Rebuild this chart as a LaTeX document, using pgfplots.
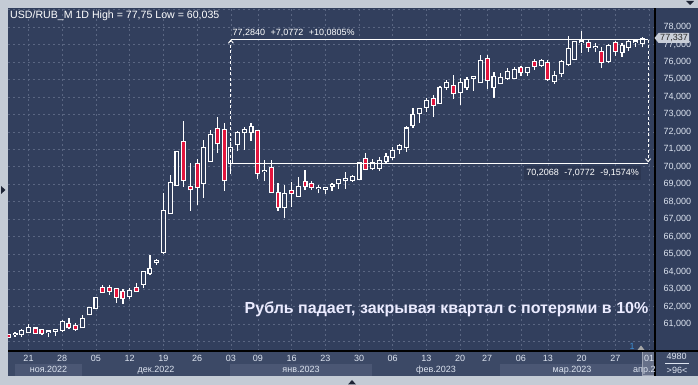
\documentclass[border=0pt]{standalone}
\usepackage{pgfplots}
\pgfplotsset{compat=1.18}
\usepackage{pgfplotstable}
\usepackage{fontspec}
\setmainfont{Liberation Sans}
\usetikzlibrary{arrows.meta}
\definecolor{framec}{HTML}{C4CBD5}
\definecolor{bgc}{HTML}{323F5D}
\definecolor{bandc}{HTML}{3C4966}
\definecolor{mboxc}{HTML}{4B5774}
\definecolor{gridc}{HTML}{5A6682}
\definecolor{txtc}{HTML}{DDE4F0}
\definecolor{cred}{HTML}{E3153D}
\definecolor{pricec}{HTML}{C9CED8}
\definecolor{darkc}{HTML}{1E2536}

\pgfplotstableread{
i o h l c
-2 60.44 60.54 60.27 60.45
-1 60.43 60.70 60.27 60.60
0 60.56 61.00 60.56 60.75
3 60.55 60.63 60.27 60.57
4 60.63 60.65 60.33 60.65
5 60.66 61.23 60.52 61.13
8 60.81 61.51 60.79 61.27
9 61.55 61.92 61.50 61.90
10 61.93 62.53 61.84 62.47
15 62.62 63.04 62.45 62.89
17 63.31 64.05 63.04 63.98
18 63.94 64.97 63.80 64.14
19 64.56 64.74 64.40 64.58
20 65.14 68.52 65.03 67.47
21 67.34 69.53 67.30 69.05
22 68.96 70.90 68.90 70.83
26 69.05 71.53 68.21 71.06
27 70.35 72.10 70.30 71.82
30 70.23 71.44 69.59 71.06
31 71.29 72.05 70.90 71.95
32 71.97 72.29 70.96 72.10
33 71.97 72.49 71.49 72.26
35 69.75 70.39 69.18 69.77
38 67.68 68.96 67.05 68.42
40 68.33 69.43 68.29 68.83
43 68.77 68.96 68.48 68.79
44 68.74 68.85 68.43 68.76
45 68.90 69.05 68.63 68.94
46 69.09 69.30 68.75 69.24
47 69.22 69.68 68.73 69.30
48 69.24 69.53 69.15 69.40
49 69.30 70.25 69.28 70.20
51 69.91 70.43 69.81 70.20
52 69.95 70.54 69.77 70.33
53 70.33 70.77 70.14 70.54
54 70.58 71.15 70.39 70.90
55 71.04 71.29 70.72 71.21
56 71.15 72.33 70.85 72.19
57 72.39 73.35 72.24 72.96
58 73.06 73.38 72.52 73.31
59 73.44 73.92 73.15 73.76
61 73.63 74.62 73.59 74.49
62 74.55 74.97 74.39 74.78
64 74.26 75.06 73.54 74.78
65 74.55 75.12 74.39 74.97
66 75.09 75.16 74.34 75.11
67 74.83 76.40 74.81 76.05
69 74.59 75.44 73.95 75.16
70 74.81 75.38 74.72 75.06
71 75.10 75.67 74.97 75.41
72 75.10 75.69 75.06 75.54
74 75.44 75.69 75.21 75.64
76 75.83 76.15 75.73 76.05
78 74.93 75.48 74.74 75.20
79 75.35 76.11 75.16 75.98
80 75.86 77.48 75.78 76.72
81 76.17 77.14 76.11 77.12
82 77.15 77.75 76.53 77.17
84 76.83 77.10 76.59 76.85
86 76.05 77.01 75.92 76.91
88 76.59 77.07 76.30 76.91
89 76.87 77.26 76.64 77.12
90 77.15 77.30 76.87 77.17
91 77.07 77.41 76.84 77.33
}\candleup

\pgfplotstableread{
i o h l c
-3 60.39 60.42 60.24 60.28
1 60.74 60.85 60.47 60.50
2 60.66 60.74 60.36 60.47
6 60.98 61.33 60.70 60.81
7 60.89 61.04 60.60 60.73
11 63.06 63.23 62.76 62.85
12 63.06 63.23 62.66 62.90
13 62.98 63.05 62.22 62.56
14 62.83 62.98 62.14 62.50
16 63.06 63.37 62.82 62.91
23 71.40 72.62 68.83 69.24
24 68.86 70.20 67.49 68.71
25 70.14 70.44 67.81 68.83
28 72.14 72.87 70.80 71.34
29 72.10 72.52 68.63 69.22
34 72.05 72.10 69.30 69.63
36 69.91 70.39 68.50 68.58
37 68.52 69.05 67.47 67.72
39 68.61 69.11 67.72 68.48
41 69.13 69.81 68.67 68.88
42 69.01 69.18 68.67 68.83
50 70.43 70.77 69.81 69.89
60 73.86 74.09 72.87 73.55
63 74.64 75.25 73.88 74.20
68 76.15 76.40 74.45 74.95
73 75.64 75.77 75.21 75.44
75 76.02 76.15 75.54 75.79
77 75.92 76.11 74.91 75.00
83 77.07 77.30 76.59 76.84
85 76.59 76.84 75.67 76.02
87 77.07 77.22 76.36 76.65
}\candledn

\begin{document}
\begin{tikzpicture}[x=1pt,y=1pt]
\useasboundingbox (0,0) rectangle (698,385);
\fill[framec] (0,0) rectangle (698,385);
\fill[bgc] (8,9) rectangle (698,377);
\fill[bandc] (8,9) rectangle (698,34);
\fill[mboxc] (15,9) rectangle (82,21);
\fill[mboxc] (230,9) rectangle (372,21);
\fill[mboxc] (500,9) rectangle (642,21);
\filldraw[fill=mboxc!85!white, draw=gridc!60!white, line width=0.6pt] (642.5,9.5) rectangle (654.5,33.5);

\begin{axis}[
  at={(8pt,34pt)}, anchor=south west, scale only axis,
  width=647pt, height=343pt,
  xmin=-3.04, xmax=92.88, ymin=59.454, ymax=79.088,
  axis line style={draw=none},
  major tick length=0pt,
  xtick={0,5,10,15,20,25,30,34,39,44,49,54,59,64,68,73,77,82,87,92},
  xticklabels={21,28,05,12,19,26,03,09,16,23,30,06,13,20,27,06,13,20,27,01},
  ytick={60,...,79},
  yticklabel pos=right,
  yticklabel={\ifdim\tick pt<60.5pt\else\ifdim\tick pt>78.5pt\else\pgfmathprintnumber[fixed,fixed zerofill,precision=3,use comma,assume math mode=true]{\tick}\fi\fi},
  ticklabel style={font=\fontsize{9}{10}\selectfont, text=txtc},
  yticklabel style={anchor=west, xshift=5pt},
  xticklabel style={anchor=base, yshift=-11pt},
  grid=major,
  major grid style={draw=gridc, line width=0.6pt, dash pattern=on 2pt off 3pt},
]
% wicks
\addplot[draw=none, mark=none, forget plot, error bars/.cd, y dir=plus, y explicit, error mark=none, error bar style={draw=white, line width=1.2pt}] table[x=i, y=l, y error plus expr={\thisrow{h}-\thisrow{l}}] \candleup;
\addplot[draw=none, mark=none, forget plot, error bars/.cd, y dir=plus, y explicit, error mark=none, error bar style={draw=white, line width=1.2pt}] table[x=i, y=l, y error plus expr={\thisrow{h}-\thisrow{l}}] \candledn;
% bodies outer
\addplot[draw=none, mark=none, forget plot, error bars/.cd, y dir=plus, y explicit, error mark=none, error bar style={draw=white, line width=5pt}] table[x=i, y expr={min(\thisrow{o},\thisrow{c})-0.06}, y error plus expr={abs(\thisrow{c}-\thisrow{o})+0.12}] \candleup;
\addplot[draw=none, mark=none, forget plot, error bars/.cd, y dir=plus, y explicit, error mark=none, error bar style={draw=white, line width=5pt}] table[x=i, y expr={min(\thisrow{o},\thisrow{c})-0.06}, y error plus expr={abs(\thisrow{c}-\thisrow{o})+0.12}] \candledn;
% bodies inner
\addplot[draw=none, mark=none, forget plot, error bars/.cd, y dir=plus, y explicit, error mark=none, error bar style={draw=bgc, line width=2.8pt}] table[x=i, y expr={min(\thisrow{o},\thisrow{c})}, y error plus expr={abs(\thisrow{c}-\thisrow{o})}] \candleup;
\addplot[draw=none, mark=none, forget plot, error bars/.cd, y dir=plus, y explicit, error mark=none, error bar style={draw=cred, line width=2.8pt}] table[x=i, y expr={min(\thisrow{o},\thisrow{c})}, y error plus expr={abs(\thisrow{c}-\thisrow{o})}] \candledn;
% measurement
\addplot[white, line width=1.2pt, forget plot] coordinates {(30,77.284) (91.85,77.284)};
\addplot[white, line width=1.2pt, forget plot] coordinates {(30,70.2068) (91.85,70.2068)};
\addplot[white, line width=0.9pt, dash pattern=on 3pt off 2.5pt, -{Straight Barb[length=3pt,width=5pt]}, forget plot] coordinates {(30,70.2068) (30,77.284)};
\addplot[white, line width=0.9pt, dash pattern=on 3pt off 2.5pt, -{Straight Barb[length=3pt,width=5pt]}, forget plot] coordinates {(91.85,77.284) (91.85,70.25)};
\node[anchor=base west, font=\fontsize{9}{10}\selectfont, text=white, inner sep=0pt] at ([xshift=1.5pt,yshift=4.5pt]axis cs:30,77.284) {77,2840\hspace{3pt} +7,0772\hspace{3pt} +10,0805\%};
\node[anchor=base east, font=\fontsize{9}{10}\selectfont, text=white, fill=bgc!88!black, inner xsep=2pt, inner ysep=3pt] at ([xshift=-7pt,yshift=-12.3pt]axis cs:91.85,70.2068) {70,2068\hspace{3pt} -7,0772\hspace{3pt} -9,1574\%};
\end{axis}

% axis lines
\draw[black, line width=1.3pt] (655,9) -- (655,377);
\draw[black, line width=1.3pt] (8,34) -- (698,34);

% month labels
\begin{scope}[font=\fontsize{9}{10}\selectfont, text=txtc]
\node[anchor=base] at (48.5,12) {ноя.2022};
\node[anchor=base] at (156,12) {дек.2022};
\node[anchor=base] at (301,12) {янв.2023};
\node[anchor=base] at (436,12) {фев.2023};
\node[anchor=base] at (572,12) {мар.2023};
\node[anchor=base west, inner sep=0pt] at (633,12) {апр.2};
\node[inner sep=0pt] at (676.5,28.5) {4980};
\draw[txtc, line width=0.6pt] (665,22) -- (689,22);
\node[inner sep=0pt] at (677,14.5) {>96<};
\node[text=cyan!60!blue!80!white, inner sep=0pt] at (632,38.5) {1};
\end{scope}
\fill[gray!70] (637.5,35) -- (644.5,35) -- (641,39.5) -- cycle;

% price label
\fill[pricec] (654.5,347) -- (658.5,352) -- (689,352) -- (689,342) -- (658.5,342) -- cycle;
\node[font=\fontsize{9}{10}\selectfont, text=black!85, inner sep=0pt] at (674,347) {77,337};

% title
\node[anchor=base west, font=\fontsize{10.6}{12}\selectfont, text=white, inner sep=0pt] at (10,366.5) {USD/RUB\_M 1D High = 77,75 Low = 60,035};

% main text
\node[anchor=base east, font=\fontsize{16}{19}\selectfont\bfseries, text=white!92!blue, inner sep=0pt] at (648.5,71.7) {Рубль падает, закрывая квартал с потерями в 10\%};

% splitter marks
\fill[darkc] (686,384) -- (694,384) -- (690,380) -- cycle;
\fill[darkc] (348,0.5) -- (356,0.5) -- (352,5) -- cycle;
\fill[darkc] (1,191) -- (1,199) -- (5.5,195) -- cycle;
\end{tikzpicture}
\end{document}
